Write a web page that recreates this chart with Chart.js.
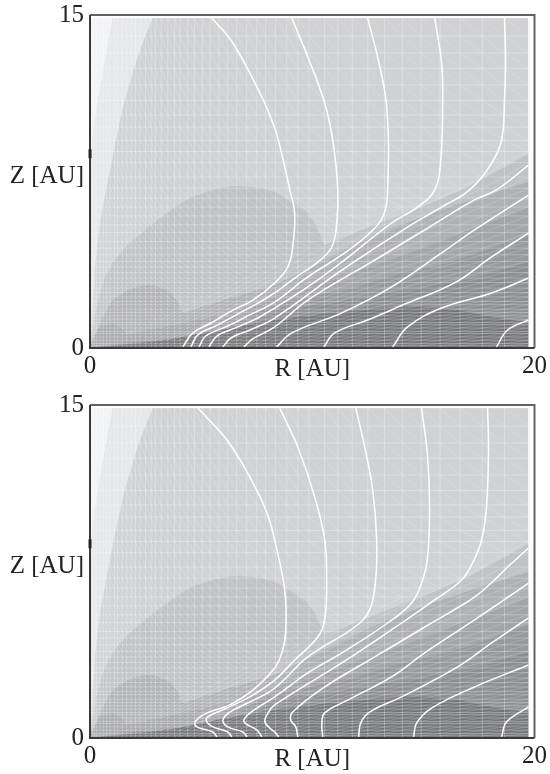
<!DOCTYPE html>
<html>
<head>
<meta charset="utf-8">
<title>R-Z contours</title>
<script src="https://cdn.jsdelivr.net/npm/chart.js@4"></script>
<style>
  html, body { margin: 0; padding: 0; background: #fff; overflow: hidden; }
  canvas { position: absolute; left: 0; }
  #topChart { top: 0; }
  #bottomChart { top: 390px; }
</style>
</head>
<body>
<canvas id="topChart" width="550" height="384"></canvas>
<canvas id="bottomChart" width="550" height="384"></canvas>
<script>
// Tick labels
const xTickValues = [0, 20];
const xTickLabels = ["0", "20"];
const yTickValues = [0, 7.72, 15];
const yTickLabels = ["0", "Z [AU]", "15"];

// Grey contour levels, [R, Z] along each upper boundary, lightest first
const levelA = [[0, 14.87], [19.73, 14.87]];
const levelB = [[0, 4.4], [0.09, 9.23], [0.36, 11.17], [0.67, 12.97], [1.0, 14.8], [1.03, 14.87], [1.06, 14.87], [19.73, 14.87]];
const levelC = [[0, 0], [0.04, 0.36], [0.22, 3.51], [0.45, 5.63], [0.72, 7.12], [1.26, 9.82], [1.57, 11.17], [2.25, 13.42], [2.8, 14.8], [2.83, 14.87], [2.86, 14.87], [19.73, 14.87]];
const levelD = [[0, 0], [0.09, 0.59], [0.27, 1.71], [0.45, 2.48], [0.72, 3.29], [1.03, 3.83], [1.48, 4.41], [1.93, 4.86], [2.7, 5.5], [3.46, 6.08], [4.49, 6.76], [5.53, 7.12], [6.52, 7.3], [7.64, 7.21], [8.31, 7.03], [9.08, 6.6], [9.8, 6.08], [10.2, 5.45], [10.5, 4.75], [10.56, 4.64], [10.65, 4.68], [16.72, 7.12], [19.73, 8.74]];
const levelE = [[0, 0.05], [0.09, 0.27], [0.45, 1.13], [1.03, 2.16], [1.93, 2.7], [2.7, 2.84], [3.46, 2.61], [3.96, 2.07], [4.15, 1.62], [4.18, 1.58], [4.25, 1.6], [6.43, 2.3], [8.31, 2.84], [10.25, 3.83], [13.93, 5.54], [18.52, 7.12], [19.73, 7.48]];
const levelF = [[0, 0.02], [0.13, 0.36], [0.45, 0.95], [1.03, 1.13], [1.48, 0.81], [1.63, 0.62], [1.66, 0.59], [1.75, 0.62], [4.18, 1.13], [6.43, 1.62], [8.31, 2.3], [12.04, 3.51], [15.82, 4.86], [19.73, 6.35]];
const levelG = [[0, 0], [1.8, 0.27], [4.94, 0.59], [8.31, 1.94], [11.33, 2.61], [13.57, 3.29], [16.09, 3.83], [19.73, 5.09]];
const levelH = [[0, 0], [4.94, 0.27], [8.31, 1.62], [11.69, 2.16], [14.29, 2.61], [17.53, 3.2], [19.73, 3.87]];
const levelI = [[0, 0], [3.4, 0.36], [5.5, 0.77], [8.31, 1.26], [11.33, 1.62], [14.29, 1.85], [16.54, 1.71], [18.07, 1.4], [19.73, 1.17]];
const levels = [levelA, levelB, levelC, levelD, levelE, levelF, levelG, levelH, levelI];
const levelColors = ["#f1f2f4", "#e5e6e8", "#d0d1d3", "#c1c2c5", "#b0b1b4", "#a4a5a8", "#98999c", "#8d8e91", "#737477"];

// Mesh positions
const meshR = [0.1, 0.2, 0.3, 0.45, 0.6, 0.75, 0.9, 1.1, 1.25, 1.45, 1.65, 1.85, 2.05, 2.25, 2.5, 2.75, 2.95, 3.2, 3.5, 3.8, 4.05, 4.4, 4.7, 5.05, 5.4, 5.8, 6.2, 6.6, 7.05, 7.5, 7.9, 8.35, 8.85, 9.35, 9.85, 10.55, 11.15, 11.8, 12.5, 13.25, 14.05, 14.9, 15.75, 16.65, 17.65, 18.65, 19.73];
const meshZ = [0.1, 0.2, 0.35, 0.5, 0.65, 0.75, 0.9, 1.05, 1.15, 1.3, 1.45, 1.6, 1.75, 1.95, 2.1, 2.3, 2.5, 2.7, 2.95, 3.15, 3.4, 3.65, 3.9, 4.2, 4.5, 4.8, 5.2, 5.55, 5.95, 6.35, 6.75, 7.2, 7.7, 8.35, 8.85, 9.35, 9.95, 10.5, 11.15, 11.85, 12.6, 13.29, 14.05, 14.87];

// White curves, upper panel
const topLine1 = [[5.48, 14.86], [6.43, 13.74], [7.64, 11.49], [8.31, 9.91], [8.67, 8.56], [8.99, 7.12], [9.21, 6.08], [9.12, 4.55], [8.9, 3.65], [8.31, 2.93], [7.33, 2.16], [6.43, 1.71], [5.53, 1.17], [4.63, 0.68], [4.18, 0.05]];
const topLine2 = [[9.08, 14.86], [9.8, 13.11], [10.56, 11.04], [10.92, 9.37], [11.15, 7.12], [11.1, 5.63], [10.88, 4.55], [10.25, 3.87], [9.21, 3.15], [8.31, 2.48], [7.64, 2.07], [6.74, 1.58], [5.75, 1.04], [4.85, 0.59], [4.54, 0.05]];
const topLine3 = [[12.49, 14.86], [12.94, 13.11], [13.35, 10.86], [13.39, 7.12], [13.17, 5.9], [12.49, 5.09], [11.33, 4.19], [9.8, 3.2], [8.31, 2.07], [7.19, 1.49], [6.2, 0.99], [5.21, 0.54], [4.9, 0.05]];
const topLine4 = [[15.51, 14.86], [15.82, 12.84], [15.87, 11.17], [15.78, 8.47], [15.51, 7.12], [14.74, 6.35], [13.57, 5.63], [11.33, 3.87], [9.8, 2.75], [8.31, 1.8], [7.55, 1.35], [6.65, 0.95], [5.71, 0.54], [5.35, 0.05]];
const topLine5 = [[18.65, 14.86], [18.7, 12.97], [18.65, 11.17], [18.52, 9.37], [18.07, 8.33], [17.08, 7.12], [15.82, 6.35], [14.29, 5.45], [11.33, 3.51], [8.31, 1.35], [7.19, 0.81], [6.34, 0.45], [5.98, 0.05]];
const topLine6 = [[19.73, 8.24], [18.29, 7.12], [17.3, 6.67], [15.06, 5.32], [12.81, 3.96], [9.8, 2.16], [8.31, 0.95], [7.33, 0.41], [6.92, 0.05]];
const topLine7 = [[19.73, 6.89], [17.3, 5.32], [15.82, 4.28], [13.57, 2.75], [11.33, 1.58], [9.08, 0.68], [8.4, 0.05]];
const topLine8 = [[19.73, 5.18], [18.07, 4.1], [16.4, 2.93], [14.29, 2.03], [12.49, 1.26], [11.01, 0.68], [10.52, 0.05]];
const topLine9 = [[19.73, 3.15], [18.07, 2.48], [15.82, 1.8], [14.29, 0.95], [13.62, 0.05]];
const topLine10 = [[19.73, 1.26], [18.79, 0.81], [18.29, 0.05]];
const topLines = [topLine1, topLine2, topLine3, topLine4, topLine5, topLine6, topLine7, topLine8, topLine9, topLine10];

// White curves, lower panel
const bottomLine1 = [[4.85, 14.86], [6.16, 13.42], [7.19, 11.76], [7.96, 10.14], [8.31, 8.9], [8.76, 6.67], [8.81, 4.86], [8.67, 3.96], [8.31, 3.15], [7.33, 2.16], [6.29, 1.49], [5.26, 1.13], [4.72, 0.72], [4.81, 0.5], [5.53, 0.27], [5.71, 0.05]];
const bottomLine2 = [[8.54, 14.86], [9.35, 13.11], [10.11, 10.86], [10.56, 8.92], [10.65, 7.12], [10.56, 5.32], [10.25, 4.55], [9.21, 3.51], [8.31, 2.61], [7.19, 1.85], [6.16, 1.35], [5.3, 0.95], [5.26, 0.72], [5.53, 0.5], [6.2, 0.27], [6.38, 0.05]];
const bottomLine3 = [[11.96, 14.86], [12.36, 13.11], [12.72, 11.17], [12.9, 8.92], [12.85, 7.12], [12.58, 5.77], [11.91, 5], [9.8, 3.65], [8.31, 2.25], [7.19, 1.62], [6.29, 1.17], [5.98, 0.81], [6.2, 0.5], [6.88, 0.27], [7.06, 0.05]];
const bottomLine4 = [[14.92, 14.86], [15.19, 12.66], [15.28, 10.41], [15.19, 8.15], [14.97, 7.12], [14.47, 6.08], [13.39, 5.18], [11.33, 3.83], [9.8, 2.93], [8.31, 1.85], [7.51, 1.35], [6.97, 0.9], [6.97, 0.68], [7.51, 0.36], [7.73, 0.05]];
const bottomLine5 = [[17.89, 14.86], [17.93, 12.97], [17.84, 10.41], [17.62, 8.92], [17.21, 7.88], [16.72, 7.12], [15.51, 6.22], [14.02, 5.18], [11.33, 3.38], [8.31, 1.49], [7.96, 1.04], [7.87, 0.72], [8.09, 0.45], [8.31, 0.27], [8.49, 0.05]];
const bottomLine6 = [[19.73, 8.56], [18.79, 7.7], [18.2, 7.12], [17.3, 6.35], [15.06, 5], [12.81, 3.65], [10.56, 2.3], [9.12, 1.17], [9.03, 0.81], [9.26, 0.5], [9.35, 0.05]];
const bottomLine7 = [[19.73, 6.98], [17.3, 5.32], [15.06, 3.83], [13.57, 2.75], [11.6, 1.71], [10.56, 1.13], [10.43, 0.68], [10.47, 0.05]];
const bottomLine8 = [[19.73, 5.41], [18.07, 4.28], [16.54, 3.2], [14.02, 1.85], [12.58, 1.17], [12.18, 0.68], [12.09, 0.05]];
const bottomLine9 = [[19.73, 3.29], [17.3, 2.3], [15.37, 1.35], [14.7, 0.68], [14.56, 0.05]];
const bottomLine10 = [[19.73, 1.4], [18.74, 0.72], [18.52, 0.05]];
const bottomLines = [bottomLine1, bottomLine2, bottomLine3, bottomLine4, bottomLine5, bottomLine6, bottomLine7, bottomLine8, bottomLine9, bottomLine10];

// Frame: the left and bottom sides are darker, plus the small notch on the Z axis
const frameDark = [[0, 15], [0, 0], [20, 0]];
const frameLight = [[0, 15], [20, 15], [20, 0]];
const frameNotch = [[0, 8.55], [0, 8.95]];

const toPoints = (pairs) => pairs.map(([x, y]) => ({ x, y }));
const serif = "'Liberation Serif', 'Times New Roman', serif";

// Straight mesh lines, broken up with empty points
const buildGridPoints = () => {
  const rMax = meshR[meshR.length - 1];
  const zMax = meshZ[meshZ.length - 1];
  const points = [];
  meshR.forEach((r) => points.push({ x: r, y: 0 }, { x: r, y: zMax }, { x: r, y: null }));
  meshZ.forEach((z) => points.push({ x: 0, y: z }, { x: rMax, y: z }, { x: rMax, y: null }));
  return points;
};

// One diagonal per mesh cell, leaning away from the disk surface
const buildDiagonalPoints = () => {
  const points = [];
  for (let i = 0; i < meshR.length - 1; i++) {
    for (let j = 0; j < meshZ.length - 1; j++) {
      const overSurface = meshZ[j] > 0.45 * meshR[i];
      points.push({ x: meshR[i], y: overSurface ? meshZ[j + 1] : meshZ[j] });
      points.push({ x: meshR[i + 1], y: overSurface ? meshZ[j] : meshZ[j + 1] });
      points.push({ x: meshR[i + 1], y: null });
    }
  }
  return points;
};

const renderChart = (canvasId, lines) => {
  const datasets = [];
  // Filled levels first, later ones paint over earlier ones
  levels.forEach((level, i) => {
    datasets.push({
      data: toPoints(level),
      showLine: true,
      fill: "origin",
      backgroundColor: levelColors[i],
      borderWidth: 0,
      tension: 0.2,
    });
  });
  datasets.push({
    data: buildDiagonalPoints(),
    showLine: true,
    borderColor: "rgba(255,255,255,0.22)",
    borderWidth: 0.8,
  });
  datasets.push({
    data: buildGridPoints(),
    showLine: true,
    borderColor: "rgba(255,255,255,0.32)",
    borderWidth: 0.9,
  });
  lines.forEach((line) => {
    datasets.push({
      data: toPoints(line),
      showLine: true,
      borderColor: "#ffffff",
      borderWidth: 1.5,
      tension: 0.4,
    });
  });
  datasets.push({ data: toPoints(frameLight), showLine: true, clip: false, borderColor: "#636365", borderWidth: 2 });
  datasets.push({ data: toPoints(frameDark), showLine: true, clip: false, borderColor: "#3a3a3c", borderWidth: 2 });
  datasets.push({ data: toPoints(frameNotch), showLine: true, clip: false, borderColor: "#222", borderWidth: 3 });

  // Chart.js paints higher order first
  datasets.forEach((ds, i) => {
    ds.order = datasets.length - i;
    ds.pointRadius = 0;
  });

  return new Chart(document.getElementById(canvasId), {
    type: "scatter",
    data: { datasets },
    options: {
      responsive: false,
      animation: false,
      layout: { padding: { left: 0, right: 15, top: 15, bottom: 0 } },
      plugins: { legend: { display: false }, tooltip: { enabled: false } },
      scales: {
        x: {
          type: "linear",
          min: 0,
          max: 20,
          grid: { display: false, drawTicks: false },
          border: { display: false },
          afterBuildTicks: (axis) => {
            axis.ticks = xTickValues.map((value) => ({ value }));
          },
          afterFit: (axis) => {
            axis.height = 36;
          },
          ticks: {
            autoSkip: false,
            maxRotation: 0,
            padding: 3,
            color: "#222",
            font: { family: serif, size: 25 },
            callback: (value) => xTickLabels[xTickValues.indexOf(value)],
          },
          title: {
            display: true,
            text: "R [AU]",
            color: "#222",
            font: { family: serif, size: 25 },
            padding: { top: 0, bottom: 0 },
          },
        },
        y: {
          type: "linear",
          min: 0,
          max: 15,
          grid: { display: false, drawTicks: false },
          border: { display: false },
          afterBuildTicks: (axis) => {
            axis.ticks = yTickValues.map((value) => ({ value }));
          },
          afterFit: (axis) => {
            axis.width = 90;
            // keep the plot top where the frame sits, label may overhang
            axis.paddingTop = 0;
            axis.paddingBottom = 0;
          },
          ticks: {
            autoSkip: false,
            padding: 6,
            color: "#222",
            font: { family: serif, size: 25 },
            callback: (value) => yTickLabels[yTickValues.indexOf(value)],
          },
        },
      },
    },
  });
};

renderChart("topChart", topLines);
renderChart("bottomChart", bottomLines);
</script>
</body>
</html>
